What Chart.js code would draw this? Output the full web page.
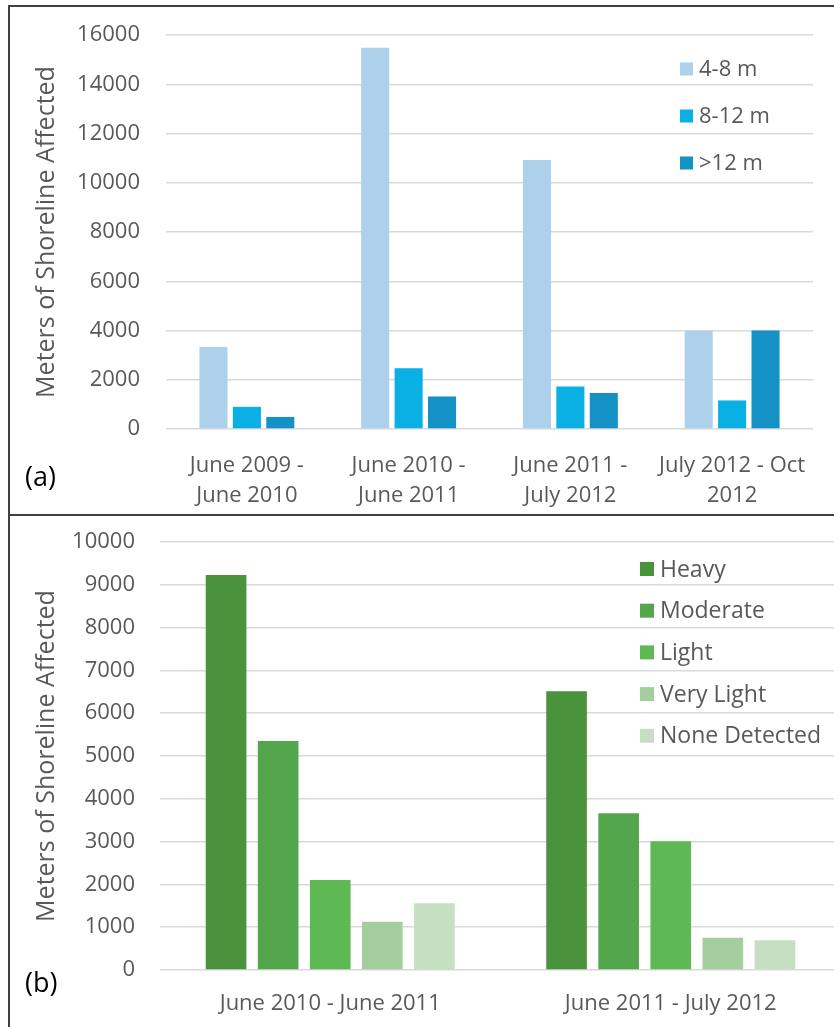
<!DOCTYPE html>
<html>
<head>
<meta charset="utf-8">
<script src="https://cdn.jsdelivr.net/npm/chart.js@4.4.1/dist/chart.umd.min.js"></script>
<style>
  html, body { margin: 0; padding: 0; background: #fff; overflow: hidden; }
  body { position: relative; width: 834px; height: 1027px; }
  .panel { position: absolute; left: 8px; width: 900px; border: 2px solid #404040; box-sizing: border-box; }
  canvas { position: absolute; left: 0; }
  .tag { position: absolute; left: 25px; font: 27px 'Open Sans', sans-serif; color: #000; line-height: 1; }
</style>
</head>
<body>
<div class="panel" style="top:5px;height:511px;"></div>
<div class="panel" style="top:514px;height:520px;"></div>
<canvas id="chartA" width="834" height="514" style="top:0;"></canvas>
<canvas id="chartB" width="860" height="512" style="top:515px;"></canvas>
<div class="tag" style="top:462px;">(a)</div>
<div class="tag" style="top:968px;">(b)</div>
<script>
// panel (a): shoreline affected by scarp height
const periodsA = [['June 2009 -', 'June 2010'], ['June 2010 -', 'June 2011'], ['June 2011 -', 'July 2012'], ['July 2012 - Oct', '2012']];
const scarp4to8 = [3330, 15480, 10920, 3990];
const scarp8to12 = [900, 2470, 1730, 1160];
const scarpOver12 = [490, 1320, 1460, 4000];

// panel (b): shoreline affected by oiling category
const periodsB = ['June 2010 - June 2011', 'June 2011 - July 2012'];
const heavy = [9230, 6510];
const moderate = [5350, 3660];
const light = [2100, 3010];
const veryLight = [1130, 755];
const noneDetected = [1560, 695];

const FONT = "'Open Sans', sans-serif";
const GREY = '#595959';
const GRID = '#d9d9d9';

// legend drawn inside the plot, one row per dataset
const sideLegend = {
    id: 'sideLegend',
    afterDraw(chart, args, opts) {
        const ctx = chart.ctx;
        ctx.save();
        ctx.font = `${opts.size}px ${FONT}`;
        ctx.textBaseline = 'middle';
        ctx.textAlign = 'left';
        chart.data.datasets.forEach((ds, i) => {
            const y = opts.y + i * opts.dy;
            ctx.fillStyle = ds.backgroundColor;
            ctx.fillRect(opts.x, y - opts.box / 2, opts.box, opts.box);
            ctx.fillStyle = GREY;
            ctx.fillText(ds.label, opts.x + opts.box + 6, y + 1);
        });
        ctx.restore();
    }
};

function yTitle() {
    return {
        display: true,
        text: 'Meters of Shoreline Affected',
        color: GREY,
        font: { family: FONT, size: 25 },
        padding: { top: 32, bottom: 0 }
    };
}

// invisible tick marks push the labels away from the plot without
// adding vertical padding above the top tick
function yGrid(gap) {
    return { color: GRID, lineWidth: 1.5, drawTicks: true, tickLength: gap, tickColor: 'rgba(0,0,0,0)' };
}

new Chart(document.getElementById('chartA').getContext('2d'), {
    type: 'bar',
    data: {
        labels: periodsA,
        datasets: [
            { label: '4-8 m', data: scarp4to8, backgroundColor: '#ADD0EB' },
            { label: '8-12 m', data: scarp8to12, backgroundColor: '#0AAFE3' },
            { label: '>12 m', data: scarpOver12, backgroundColor: '#1592C5' }
        ]
    },
    options: {
        responsive: false,
        animation: false,
        layout: { padding: { left: 0, right: 21, top: 35, bottom: 0 } },
        datasets: { bar: { categoryPercentage: 0.62, barPercentage: 0.84 } },
        plugins: {
            legend: { display: false },
            tooltip: { enabled: false },
            sideLegend: { x: 680, y: 69, dy: 47, box: 13, size: 22 }
        },
        scales: {
            x: {
                grid: { display: false, drawTicks: false },
                border: { display: false },
                ticks: { color: GREY, padding: 21, maxRotation: 0, autoSkip: false, font: { family: FONT, size: 22, lineHeight: 1.4 } },
                afterFit: s => { s.height = 85; }
            },
            y: {
                min: 0,
                max: 16000,
                ticks: { stepSize: 2000, color: GREY, padding: 0, font: { family: FONT, size: 22 }, callback: v => String(v) },
                grid: yGrid(26),
                border: { display: false },
                title: yTitle(),
                afterFit: s => { s.width = 166; }
            }
        }
    },
    plugins: [sideLegend]
});

new Chart(document.getElementById('chartB').getContext('2d'), {
    type: 'bar',
    data: {
        labels: periodsB,
        datasets: [
            { label: 'Heavy', data: heavy, backgroundColor: '#4A923B' },
            { label: 'Moderate', data: moderate, backgroundColor: '#54A64C' },
            { label: 'Light', data: light, backgroundColor: '#5EB954' },
            { label: 'Very Light', data: veryLight, backgroundColor: '#A4CE9D' },
            { label: 'None Detected', data: noneDetected, backgroundColor: '#C5E0C1' }
        ]
    },
    options: {
        responsive: false,
        animation: false,
        layout: { padding: { left: 0, right: 19, top: 27, bottom: 0 } },
        datasets: { bar: { categoryPercentage: 0.765, barPercentage: 0.78 } },
        plugins: {
            legend: { display: false },
            tooltip: { enabled: false },
            sideLegend: { x: 640, y: 54, dy: 41.7, box: 14, size: 23 }
        },
        scales: {
            x: {
                grid: { display: false, drawTicks: false },
                border: { display: false },
                ticks: { color: GREY, padding: 18, maxRotation: 0, autoSkip: false, font: { family: FONT, size: 22, lineHeight: 1.4 } },
                afterFit: s => { s.height = 57; }
            },
            y: {
                min: 0,
                max: 10000,
                ticks: { stepSize: 1000, color: GREY, padding: 0, font: { family: FONT, size: 22 }, callback: v => String(v) },
                grid: yGrid(25),
                border: { display: false },
                title: yTitle(),
                afterFit: s => { s.width = 160; }
            }
        }
    },
    plugins: [sideLegend]
});
</script>
</body>
</html>
